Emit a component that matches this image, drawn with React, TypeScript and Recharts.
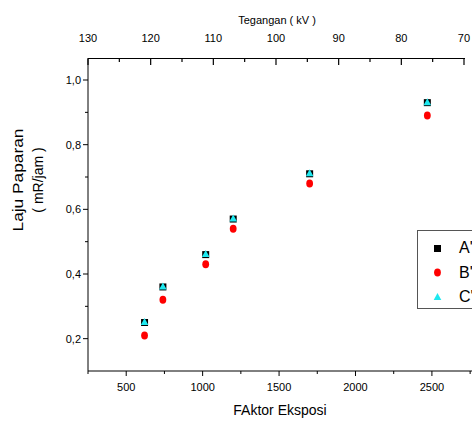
import React from 'react'
import {
  ComposedChart,
  Scatter,
  XAxis,
  YAxis,
  Label,
} from 'recharts'

// data
const faktor = [620, 740, 1020, 1200, 1700, 2470]
const seriesA = [0.25, 0.36, 0.46, 0.57, 0.71, 0.93]
const seriesB = [0.21, 0.32, 0.43, 0.54, 0.68, 0.89]
const seriesC = [0.25, 0.36, 0.46, 0.57, 0.71, 0.93]

const bottomTicks = [250, 500, 750, 1000, 1250, 1500, 1750, 2000, 2250, 2500, 2750]
const topTicks = [130, 125, 120, 115, 110, 105, 100, 95, 90, 85, 80, 75, 70]
const yTicks = [0.2, 0.3, 0.4, 0.5, 0.6, 0.7, 0.8, 0.9, 1.0]

const FONT = '"Liberation Sans", Arial, sans-serif'
const CYAN = '#1ee8ef'

const toPoints = (ys: number[]) => faktor.map((x, i) => ({ x, y: ys[i] }))
const dataA = toPoints(seriesA)
const dataB = toPoints(seriesB)
const dataC = toPoints(seriesC)

const SquareDot = ({ cx, cy }: any) => (
  <rect x={cx - 3.5} y={cy - 3.5} width={7} height={7} fill="#000" />
)
const RedDot = ({ cx, cy }: any) => <ellipse cx={cx} cy={cy} rx={3.4} ry={4} fill="#ff0000" />
const TriDot = ({ cx, cy }: any) => (
  <polygon points={`${cx},${cy - 4.5} ${cx + 3.8},${cy + 2.5} ${cx - 3.8},${cy + 2.5}`} fill={CYAN} />
)

const BottomTick = ({ x, y, payload }: any) => {
  const major = payload.value % 500 === 0
  return (
    <g>
      <line x1={x} x2={x} y1={y} y2={y + (major ? 5 : 3)} stroke="#000" />
      {major && (
        <text x={x} y={y + 16} textAnchor="middle" dominantBaseline="central" fontSize={11} fontFamily={FONT} fill="#000">
          {payload.value}
        </text>
      )}
    </g>
  )
}

// top axis: ticks point into the plot; the 130 tick also carries the axis line up to 70
const TopTick = ({ x, y, payload }: any) => {
  const major = payload.value % 10 === 0
  return (
    <g>
      <line x1={x} x2={x} y1={y - 1} y2={y + (major ? 6 : 3)} stroke="#000" strokeWidth={1.2} />
      {major && (
        <text x={x} y={y - 21.5} textAnchor="middle" dominantBaseline="central" fontSize={11} fontFamily={FONT} fill="#000">
          {payload.value}
        </text>
      )}
    </g>
  )
}

const LeftTick = ({ x, y, payload }: any) => {
  const v = Number(payload.value)
  const major = Math.round(v * 10) % 2 === 0
  return (
    <g>
      <line x1={x - (major ? 5 : 3)} x2={x} y1={y} y2={y} stroke="#000" />
      {major && (
        <text x={x - 7} y={y} textAnchor="end" dominantBaseline="central" fontSize={11} fontFamily={FONT} fill="#000">
          {v.toFixed(1).replace('.', ',')}
        </text>
      )}
    </g>
  )
}

const legendItems = [
  { name: "A'", marker: <rect x={3} y={3} width={7} height={7} fill="#000" /> },
  { name: "B'", marker: <ellipse cx={6.5} cy={6.5} rx={3.4} ry={4} fill="#ff0000" /> },
  { name: "C'", marker: <polygon points="6.5,2 10.3,9 2.7,9" fill={CYAN} /> },
]

export default function App() {
  return (
    <div style={{ position: 'absolute', left: 0, top: 0, width: 472, height: 421, overflow: 'hidden', background: '#fff' }}>
      <ComposedChart width={490} height={421} margin={{ top: 0, right: 0, bottom: 0, left: 0 }}>
        <XAxis
          xAxisId="bottom"
          dataKey="x"
          type="number"
          domain={[250, 2880]}
          allowDataOverflow
          ticks={bottomTicks}
          height={50}
          tickSize={0}
          tickMargin={0}
          tick={<BottomTick />}
          axisLine={{ stroke: '#000' }}
          tickLine={false}
          interval={0}
        >
          <Label
            content={() => (
              <text x={280} y={415} textAnchor="middle" fontSize={14} fontFamily={FONT} fill="#000">
                FAktor Eksposi
              </text>
            )}
          />
        </XAxis>
        <XAxis
          xAxisId="top"
          dataKey="x"
          orientation="top"
          type="number"
          domain={[65.85, 130]}
          allowDataOverflow
          reversed
          ticks={topTicks}
          height={59}
          tickSize={0}
          tickMargin={0}
          tick={<TopTick />}
          axisLine={false}
          tickLine={false}
          interval={0}
        >
          <Label
            content={() => (
              <text x={277} y={20} textAnchor="middle" dominantBaseline="central" fontSize={11} fontFamily={FONT} fill="#000">
                Tegangan ( kV )
              </text>
            )}
          />
        </XAxis>
        <YAxis
          yAxisId="left"
          dataKey="y"
          type="number"
          domain={[0.1, 1.065]}
          allowDataOverflow
          ticks={yTicks}
          width={88}
          tickSize={0}
          tickMargin={0}
          tick={<LeftTick />}
          axisLine={{ stroke: '#000' }}
          tickLine={false}
          interval={0}
        >
          <Label
            content={() => (
              <g fontFamily={FONT} fill="#000">
                <text
                  x={18}
                  y={180}
                  transform="rotate(-90 18 180)"
                  textAnchor="middle"
                  dominantBaseline="central"
                  fontSize={14}
                  textLength={103}
                  lengthAdjust="spacingAndGlyphs"
                >
                  Laju Paparan
                </text>
                <text
                  x={38}
                  y={180}
                  transform="rotate(-90 38 180)"
                  textAnchor="middle"
                  dominantBaseline="central"
                  fontSize={14}
                >
                  ( mR/jam )
                </text>
              </g>
            )}
          />
        </YAxis>
        {/* empty series so the top axis is bound to something */}
        <Scatter xAxisId="top" yAxisId="left" data={[]} dataKey="y" isAnimationActive={false} />
        <Scatter xAxisId="bottom" yAxisId="left" name="A'" data={dataA} dataKey="y" shape={<SquareDot />} isAnimationActive={false} />
        <Scatter xAxisId="bottom" yAxisId="left" name="B'" data={dataB} dataKey="y" shape={<RedDot />} isAnimationActive={false} />
        <Scatter xAxisId="bottom" yAxisId="left" name="C'" data={dataC} dataKey="y" shape={<TriDot />} isAnimationActive={false} />
      </ComposedChart>
      {/* top axis line (130 -> 70 kV), stops at the last tick */}
      <div style={{ position: 'absolute', left: 88, top: 58, width: 377, height: 0, borderTop: '1px solid #000', zIndex: 5 }} />
      <div
        style={{
          position: 'absolute',
          left: 417,
          top: 230,
          width: 80,
          height: 79,
          border: '1px solid #555',
          background: '#fff',
          fontFamily: FONT,
          fontSize: 16,
          boxSizing: 'border-box',
        }}
      >
        {legendItems.map((item, i) => (
          <div key={item.name} style={{ position: 'absolute', left: 13, top: 8 + i * 24.5, height: 18, display: 'flex', alignItems: 'center' }}>
            <svg width={13} height={13} style={{ display: 'block' }}>
              {item.marker}
            </svg>
            <span style={{ marginLeft: 15, lineHeight: '18px' }}>{item.name}</span>
          </div>
        ))}
      </div>
    </div>
  )
}
